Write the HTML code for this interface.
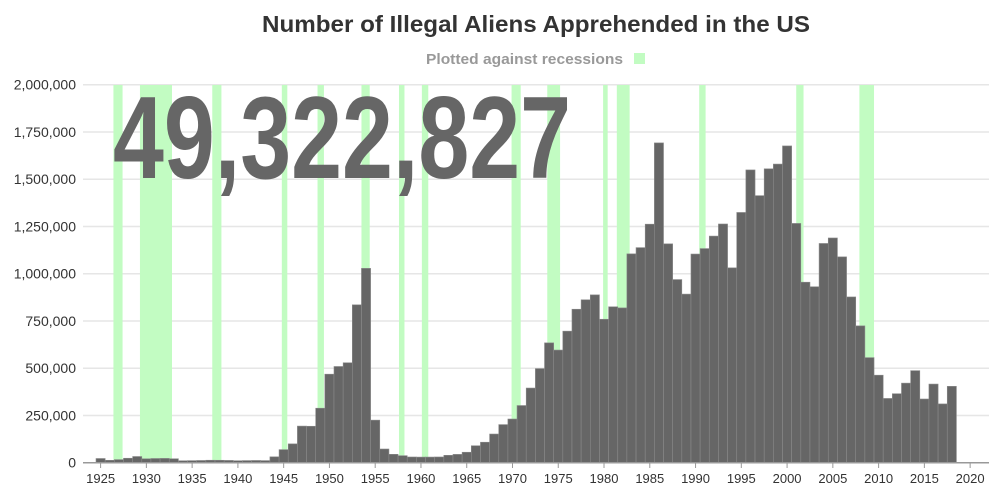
<!DOCTYPE html>
<html><head><meta charset="utf-8"><style>
html,body{margin:0;padding:0;background:#fff;}
svg{display:block;font-family:"Liberation Sans",Arial,sans-serif;}
</style></head><body>
<svg id="chart" width="1000" height="500" viewBox="0 0 1000 500">
<text x="262" y="32" font-size="23" font-weight="bold" fill="#333" textLength="548" lengthAdjust="spacingAndGlyphs">Number of Illegal Aliens Apprehended in the US</text>
<text x="426" y="64" font-size="15" font-weight="bold" fill="#999" textLength="197" lengthAdjust="spacingAndGlyphs">Plotted against recessions</text>
<rect x="634" y="53" width="11" height="11" fill="#c2fcc2"/>
<g id="grid"></g><g id="rec"></g><g id="bars"></g><g id="axes"></g>
<text x="113" y="178" font-size="117" font-weight="bold" fill="#666" textLength="458" lengthAdjust="spacingAndGlyphs">49,322,827</text>
</svg>
<script>
const years=[];for(let y=1925;y<=2018;y++)years.push(y);
const values=[22199,12735,16393,23566,32711,20880,22276,22735,20949,10319,11016,11728,13054,12851,12037,10492,11294,11784,11175,31174,69164,99591,193657,192779,288253,468339,509040,528815,835311,1028246,225186,72442,44451,37242,30196,29651,29817,30272,39124,43993,55340,89751,108327,151705,201636,231116,302517,395000,498000,634000,596000,696000,812000,862000,888000,759000,825000,819000,1105000,1138000,1262000,1692000,1158000,969000,892000,1104000,1133000,1199000,1263000,1031000,1324000,1549000,1413000,1555000,1580000,1676000,1266000,955000,931000,1160000,1189000,1089000,877000,724000,556000,463000,340000,365000,421000,487000,337000,416000,311000,404000];
const recStart=[1926.4,1929.3,1937.2,1944.8,1948.7,1953.5,1957.6,1960.1,1969.9,1973.8,1979.9,1981.4,1990.4,2001.0,2007.9];
const recEnd=[1927.4,1932.8,1938.2,1945.4,1949.4,1954.4,1958.2,1960.8,1970.9,1975.2,1980.4,1982.8,1991.1,2001.8,2009.5];
const yTicks=[0,250000,500000,750000,1000000,1250000,1500000,1750000,2000000];
const xTicks=[1925,1930,1935,1940,1945,1950,1955,1960,1965,1970,1975,1980,1985,1990,1995,2000,2005,2010,2015,2020];
const NS="http://www.w3.org/2000/svg";
const X=y=>100.6+(y-1925)*9.153;
const Y=v=>462.7-v*(378/2000000);
function mk(p,t,a){const e=document.createElementNS(NS,t);for(const k in a)e.setAttribute(k,a[k]);document.getElementById(p).appendChild(e);return e;}
yTicks.forEach(v=>{
 const l=mk('grid','line',{x1:83,x2:989,y1:Y(v),y2:Y(v),stroke:'#e6e6e6','stroke-width':1.5});
 
 
 const t=mk('axes','text',{x:76,y:Y(v)+5,'text-anchor':'end','font-size':14,fill:'#333'});
 t.textContent=v.toLocaleString('en-US');
 
 
});
recStart.forEach((s,i)=>{
 const r=mk('rec','rect',{x:X(s),y:85,width:X(recEnd[i])-X(s),height:378,fill:'#c2fcc2'});
 
 
});
years.forEach((yr,i)=>{
 const w=9.153;
 const r=mk('bars','rect',{x:X(yr)-w/2,y:Y(values[i]),width:w,height:Y(0)-Y(values[i]),fill:'#666',stroke:'#8a8a8a','stroke-width':0.6});
 
 
});
const ax=mk('axes','line',{x1:83,x2:989,y1:462.7,y2:462.7,stroke:'#999','stroke-width':1.5});


xTicks.forEach(yr=>{
 const tk=mk('axes','line',{x1:X(yr),x2:X(yr),y1:463,y2:468,stroke:'#999'});
 
 
 const t=mk('axes','text',{x:X(yr),y:483,'text-anchor':'middle','font-size':13,fill:'#333'});
 t.textContent=yr;
 
 
});
</script>
</body></html>
